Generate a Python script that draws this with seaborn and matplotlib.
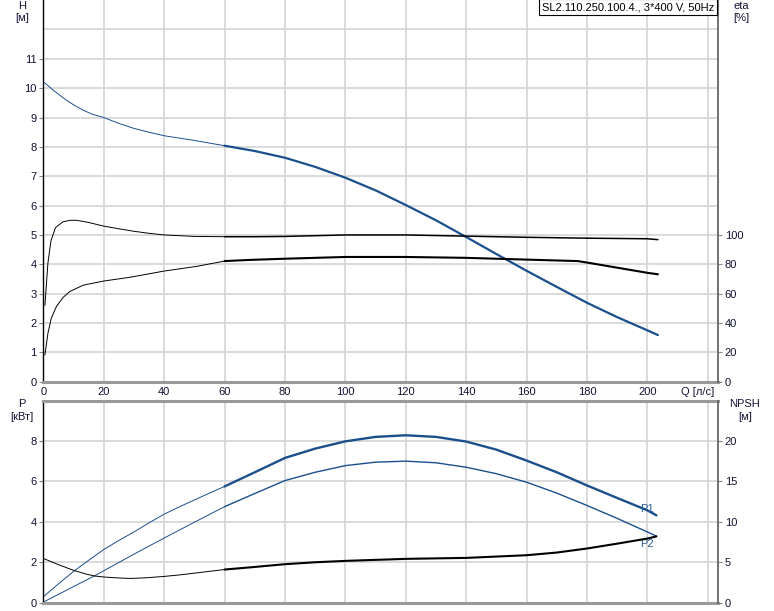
import numpy as np
import seaborn as sns
import matplotlib.pyplot as plt

# head curve H [m] vs Q [l/s]
q_h = [0, 3.3, 7.5, 10.2, 13, 16, 20, 25, 30, 35, 40, 50, 60, 70, 80, 90, 100, 110, 120, 130, 140, 150, 160, 170, 180, 190, 200, 203.5]
h = [10.22, 9.93, 9.6, 9.42, 9.26, 9.12, 9.0, 8.8, 8.63, 8.5, 8.38, 8.22, 8.04, 7.86, 7.63, 7.32, 6.95, 6.52, 6.02, 5.5, 4.93, 4.35, 3.78, 3.23, 2.69, 2.2, 1.75, 1.59]

# efficiency curves [%]
q_eta1 = [0.5, 1.5, 2.5, 4, 6.5, 9, 11, 15, 20, 25, 30, 35, 40, 50, 60, 70, 80, 100, 120, 140, 160, 180, 200, 203.5]
eta1 = [52, 81, 96, 105, 109, 110, 110, 108.5, 106, 104.2, 102.5, 101.1, 100, 99, 98.8, 98.8, 99, 100, 100, 99.2, 98.4, 97.8, 97.4, 96.8]
q_eta2 = [0.5, 1.5, 2.6, 4.3, 6.5, 8.7, 13.2, 20, 28.8, 40, 50.8, 60, 68.5, 80, 100, 120, 140, 160, 177, 180, 200, 203.5]
eta2 = [18.2, 33, 43.2, 51.2, 57.4, 61.4, 65.8, 68.6, 71.2, 75.4, 78.6, 82.2, 83, 83.8, 85, 85, 84.4, 83.2, 82.2, 81.2, 74.2, 73.2]

# power curves [kW]
q_p1 = [0, 6.5, 10, 15, 20, 25, 30, 35, 40, 45, 50, 55, 60, 70, 80, 90, 100, 110, 120, 130, 140, 150, 160, 170, 180, 190, 200, 203]
p1 = [0.3, 1.12, 1.55, 2.1, 2.63, 3.08, 3.5, 3.95, 4.38, 4.74, 5.08, 5.42, 5.75, 6.45, 7.16, 7.62, 7.98, 8.2, 8.28, 8.2, 7.97, 7.57, 7.03, 6.45, 5.8, 5.18, 4.57, 4.32]
q_p2 = [0, 10, 16.7, 20, 30, 40, 50, 60, 70, 80, 90, 100, 110, 120, 130, 140, 150, 160, 170, 180, 190, 200, 203]
p2 = [0.03, 0.8, 1.31, 1.58, 2.4, 3.2, 3.98, 4.75, 5.4, 6.04, 6.45, 6.78, 6.95, 7.0, 6.92, 6.7, 6.38, 5.96, 5.42, 4.81, 4.17, 3.5, 3.29]

# NPSH [m]
q_npsh = [0, 5, 10, 14, 17, 20, 23, 26, 29, 34, 40, 45, 50, 55, 60, 70, 80, 90, 100, 120, 140, 160, 170, 180, 190, 200, 203]
npsh = [5.47, 4.7, 4.0, 3.55, 3.3, 3.18, 3.1, 3.04, 3.0, 3.08, 3.25, 3.43, 3.65, 3.88, 4.1, 4.42, 4.76, 5.0, 5.17, 5.42, 5.54, 5.87, 6.2, 6.7, 7.3, 7.93, 8.2]

x_major = list(range(0, 201, 20))
h_ticks = list(range(0, 12))
eta_ticks = list(range(0, 101, 20))
p_ticks = [0, 2, 4, 6, 8]
npsh_ticks = [0, 5, 10, 15, 20]

sns.set_style('white')
plt.rcParams['font.family'] = ['Liberation Sans', 'DejaVu Sans']
plt.rcParams['font.size'] = 8

BLUE = '#1a4f8c'
GRID = '#d4d4d4'
TXT = '#111133'
W, H = 774, 611


def curve(ax, q, v, color, lw_thin, lw_thick):
    # thin line up to the recommended range start, thick after
    q = np.asarray(q)
    v = np.asarray(v)
    thin = q <= 60
    thick = q >= 60
    sns.lineplot(x=q[thin], y=v[thin], ax=ax, color=color, lw=lw_thin)
    sns.lineplot(x=q[thick], y=v[thick], ax=ax, color=color, lw=lw_thick)


def style(ax, twin):
    ax.set_xlim(0, 223.3)
    ax.set_xticks(x_major)
    ax.set_xticks([220], minor=True)
    ax.grid(True, which='both', color=GRID, lw=1.2)
    ax.set_axisbelow(True)
    ax.tick_params(axis='x', which='both', length=0, colors=TXT, pad=4)
    ax.tick_params(axis='y', which='major', length=3, color='#888888', colors=TXT, pad=2)
    ax.tick_params(axis='y', which='minor', length=0)
    twin.tick_params(axis='y', length=3, color='#888888', labelcolor=TXT, pad=2)
    for s in ['top', 'right']:
        ax.spines[s].set_visible(False)
    for s in ['left', 'top', 'bottom']:
        twin.spines[s].set_visible(False)
    ax.spines['left'].set_color('black')
    ax.spines['left'].set_linewidth(1.0)
    ax.spines['bottom'].set_color('#999999')
    ax.spines['bottom'].set_linewidth(2.2)
    twin.spines['right'].set_color('#666666')
    twin.spines['right'].set_linewidth(1.3)
    ax.set_xlabel('')
    ax.set_ylabel('')
    twin.set_ylabel('')


fig = plt.figure(figsize=(W / 100, H / 100), dpi=100)
left = 43.4 / W
width = (717.7 - 43.4) / W

# top panel: H and eta
ax1 = fig.add_axes([left, (H - 381.7) / H, width, 381.7 / H])
ax1e = ax1.twinx()
curve(ax1, q_h, h, BLUE, 0.7, 1.6)
curve(ax1e, q_eta1, eta1, 'black', 0.7, 1.1)
curve(ax1e, q_eta2, eta2, 'black', 0.7, 1.5)
ax1.set_ylim(0, 381.7 / 29.35)
ax1e.set_ylim(0, 20 * 381.7 / 29.35)
ax1.set_yticks(h_ticks)
ax1.set_yticks([12], minor=True)
ax1e.set_yticks(eta_ticks)
style(ax1, ax1e)

# bottom panel: P and NPSH
ax2 = fig.add_axes([left, (H - 602.7) / H, width, (602.7 - 400.5) / H])
ax2n = ax2.twinx()
curve(ax2, q_p1, p1, BLUE, 0.7, 1.7)
curve(ax2, q_p2, p2, BLUE, 0.7, 1.0)
curve(ax2n, q_npsh, npsh, 'black', 0.7, 1.5)
ax2.set_ylim(0, 10)
ax2n.set_ylim(0, 25)
ax2.set_yticks(p_ticks)
ax2n.set_yticks(npsh_ticks)
style(ax2, ax2n)
ax2.tick_params(axis='x', labelbottom=False)
ax2.spines['top'].set_visible(True)
ax2.spines['top'].set_color('#999999')
ax2.spines['top'].set_linewidth(2.2)

ax2.text(200, 4.62, 'P1', color='#2a5f96', ha='center', va='center', fontsize=8)
ax2.text(200, 2.9, 'P2', color='#2a5f96', ha='center', va='center', fontsize=8)


def ftext(x, y, s, **kw):
    fig.text(x / W, 1 - y / H, s, ha='center', va='center', color=TXT, fontsize=8, **kw)


ftext(22, 6, 'H')
ftext(22, 18, '[м]')
ftext(741, 6, 'eta')
ftext(741, 18, '[%]')
ftext(22, 404, 'P')
ftext(22, 417, '[кВт]')
ftext(745, 404, 'NPSH')
ftext(745, 417, '[м]')
ftext(698, 392, 'Q [л/с]')

fig.text(714 / W, 1 - 7 / H, 'SL2.110.250.100.4., 3*400 V, 50Hz', ha='right', va='center',
         color='black', fontsize=8,
         bbox=dict(boxstyle='square,pad=0.25', facecolor='white', edgecolor='black', lw=0.8))

fig.savefig('out.png', dpi=100)
